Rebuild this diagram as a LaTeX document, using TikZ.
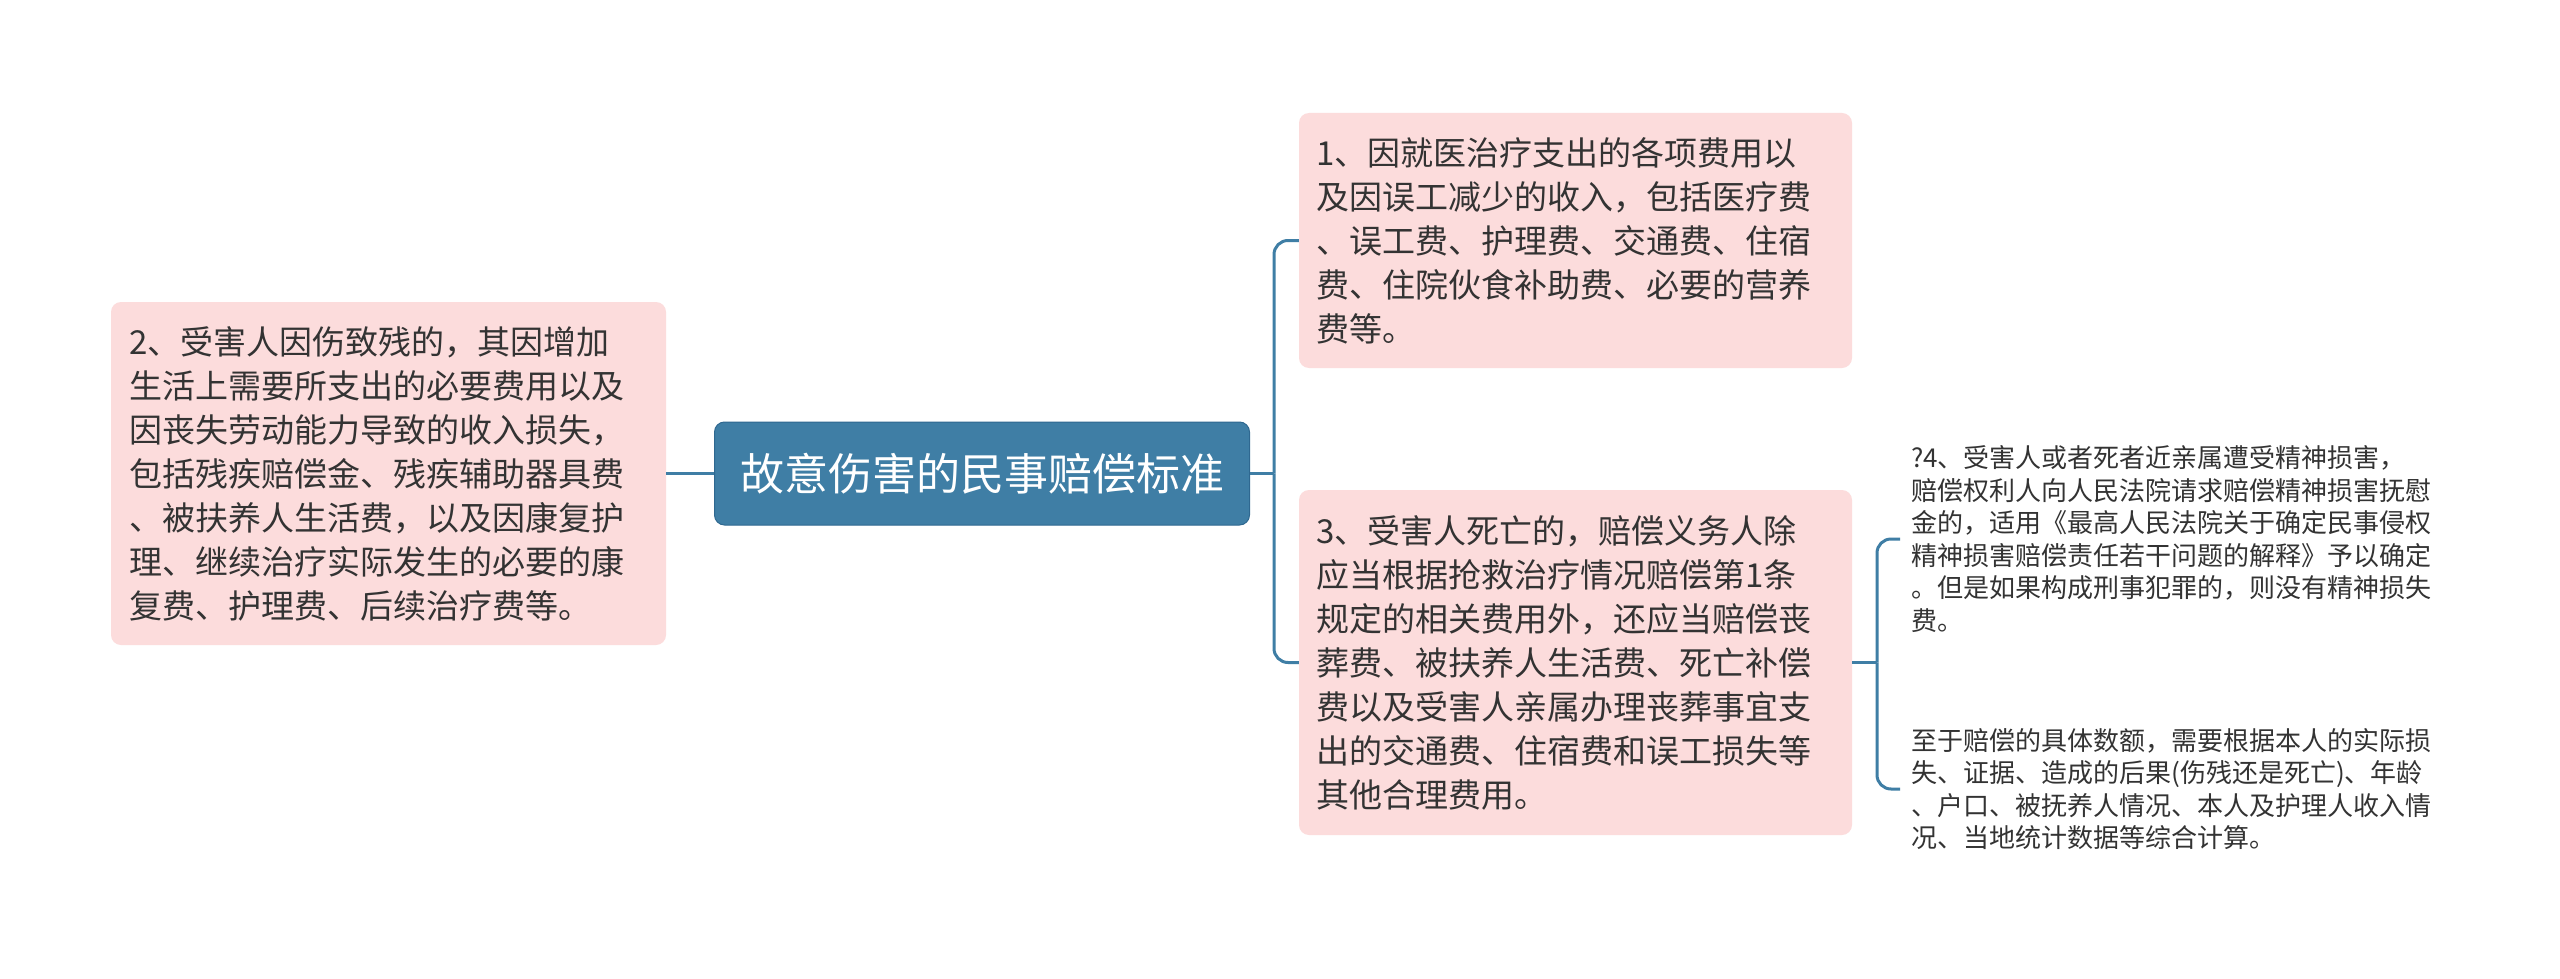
\documentclass[tikz,border=0pt]{standalone}
\usepackage{fontspec}
\newfontfamily\cjk{Noto Sans CJK SC}
\definecolor{pinkfill}{HTML}{FCDCDC}
\definecolor{mainblue}{HTML}{3F7EA5}
\definecolor{darkblue}{HTML}{2F6890}
\definecolor{txt}{HTML}{333333}
\begin{document}
\begin{tikzpicture}[x=1pt,y=-1pt,
  conn/.style={draw=mainblue, line width=3pt},
  elbow/.style={conn, rounded corners=14pt},
  pinkbox/.style={fill=pinkfill, rounded corners=10pt, text=txt, align=left,
    inner sep=0pt, text width=519pt, minimum width=553pt,
    font=\cjk\fontsize{33}{44}\selectfont},
  titlebox/.style={fill=mainblue, draw=darkblue, line width=1pt, rounded corners=10pt,
    text=white, minimum width=535pt, minimum height=103pt, inner sep=0pt,
    font=\cjk\fontsize{44}{50}\selectfont},
  leaf/.style={anchor=west, text=txt, align=left, inner xsep=11pt, inner ysep=0pt,
    text width=535pt, font=\cjk\fontsize{26}{32.6}\selectfont}
]
\useasboundingbox[fill=white] (0,0) rectangle (2560,979);

\node[titlebox] (t) at (982,473.5) {故意伤害的民事赔偿标准};

\node[pinkbox, minimum width=555pt, minimum height=343pt] (n2) at (388.5,473.5)
{2、受害人因伤致残的，其因增加\\
生活上需要所支出的必要费用以及\\
因丧失劳动能力导致的收入损失，\\
包括残疾赔偿金、残疾辅助器具费\\
、被扶养人生活费，以及因康复护\\
理、继续治疗实际发生的必要的康\\
复费、护理费、后续治疗费等。};

\node[pinkbox, minimum height=255pt] (n1) at (1575.5,240.5)
{1、因就医治疗支出的各项费用以\\
及因误工减少的收入，包括医疗费\\
、误工费、护理费、交通费、住宿\\
费、住院伙食补助费、必要的营养\\
费等。};

\node[pinkbox, minimum height=345pt] (n3) at (1575.5,662.5)
{3、受害人死亡的，赔偿义务人除\\
应当根据抢救治疗情况赔偿第1条\\
规定的相关费用外，还应当赔偿丧\\
葬费、被扶养人生活费、死亡补偿\\
费以及受害人亲属办理丧葬事宜支\\
出的交通费、住宿费和误工损失等\\
其他合理费用。};

\node[leaf] (l4) at (1900,539)
{?4、受害人或者死者近亲属遭受精神损害，\\
赔偿权利人向人民法院请求赔偿精神损害抚慰\\
金的，适用《最高人民法院关于确定民事侵权\\
精神损害赔偿责任若干问题的解释》予以确定\\
。但是如果构成刑事犯罪的，则没有精神损失\\
费。};

\node[leaf] (l5) at (1900,789)
{至于赔偿的具体数额，需要根据本人的实际损\\
失、证据、造成的后果(伤残还是死亡)、年龄\\
、户口、被抚养人情况、本人及护理人收入情\\
况、当地统计数据等综合计算。};

\coordinate (j) at (1274,473.5);
\coordinate (k) at (1877,662.5);

\draw[conn] (n2.east) -- (t.west);
\draw[conn] (t.east) -- (j);
\draw[elbow] (j) |- (n1.west);
\draw[elbow] (j) |- (n3.west);
\draw[conn] (n3.east) -- (k);
\draw[elbow] (k) |- (l4.west);
\draw[elbow] (k) |- (l5.west);
\end{tikzpicture}
\end{document}
